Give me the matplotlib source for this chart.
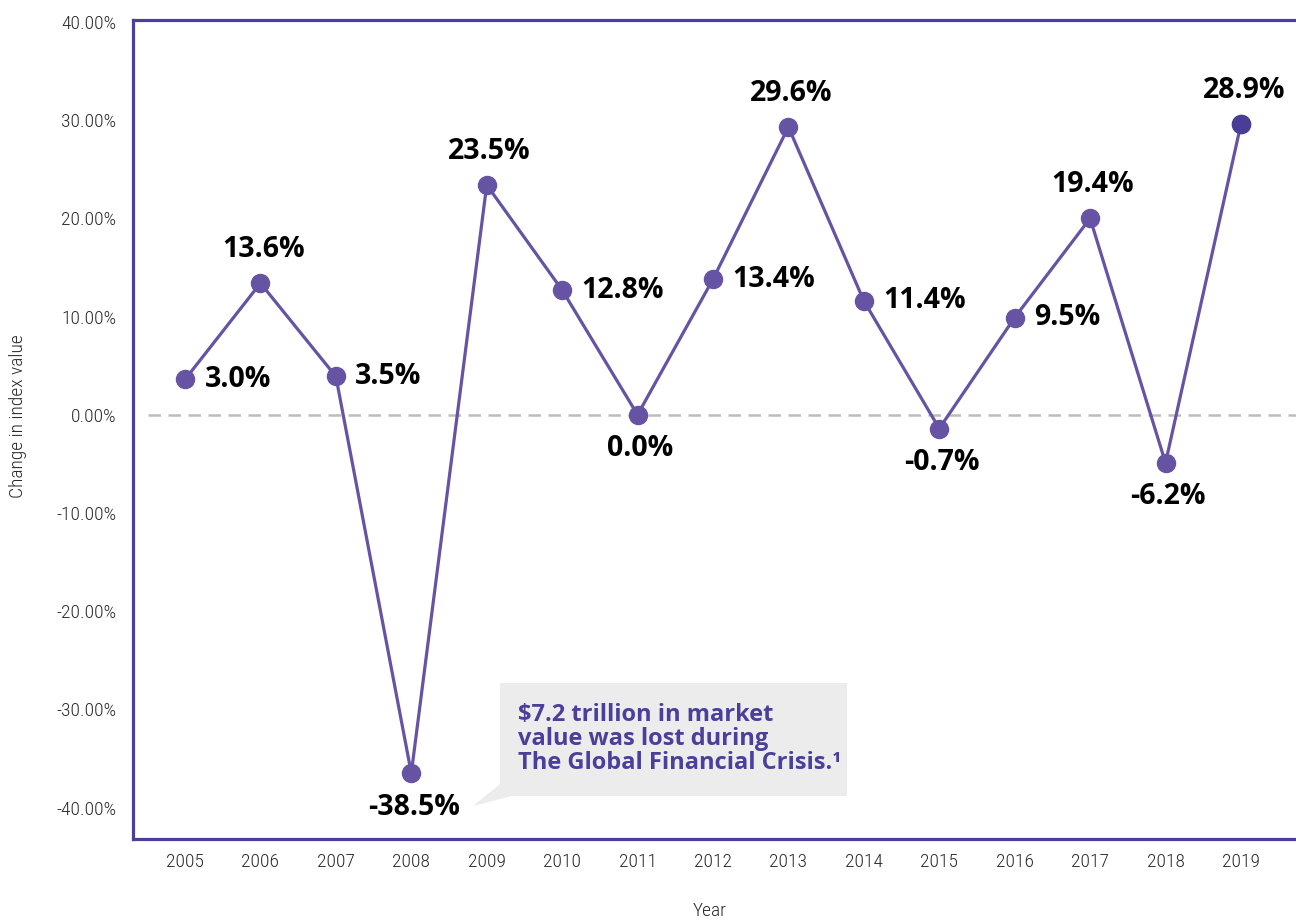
import matplotlib
matplotlib.use("Agg")
import matplotlib.pyplot as plt
from matplotlib.patches import Polygon
from matplotlib import font_manager as fm

years = [2005, 2006, 2007, 2008, 2009, 2010, 2011, 2012, 2013, 2014, 2015, 2016, 2017, 2018, 2019]
values = [3.6, 13.4, 3.9, -36.5, 23.4, 12.7, 0.0, 13.8, 29.3, 11.6, -1.4, 9.9, 20.0, -4.9, 29.6]
labels = ["3.0%", "13.6%", "3.5%", "-38.5%", "23.5%", "12.8%", "0.0%", "13.4%", "29.6%",
          "11.4%", "-0.7%", "9.5%", "19.4%", "-6.2%", "28.9%"]
placement = ["right", "above", "right", "below", "above", "right", "below", "right", "above",
             "right", "below", "right", "above", "below", "above"]
yticks = [40, 30, 20, 10, 0, -10, -20, -30, -40]
ytick_labels = ["40.00%", "30.00%", "20.00%", "10.00%", "0.00%", "-10.00%", "-20.00%", "-30.00%", "-40.00%"]
callout_text = "$7.2 trillion in market\nvalue was lost during\nThe Global Financial Crisis.\u00b9"

names = {f.name for f in fm.fontManager.ttflist}
cond_fp = None
for cand in ["Liberation Sans Narrow", "DejaVu Sans Condensed", "Roboto Condensed", "Open Sans Condensed"]:
    if cand in names:
        cond_fp = dict(family=[cand, "DejaVu Sans"])
        break
if cond_fp is None:
    cond_fp = dict(family=["DejaVu Sans"], stretch="condensed")
cond_fp["weight"] = 300

W, H = 1296, 923
fig = plt.figure(figsize=(W / 100, H / 100), dpi=100)
ax = fig.add_axes([133 / W, 1 - 839 / H, 1 - 133 / W, (839 - 20) / H])

line_col = "#6653a3"
frame_col = "#4b3f9b"
tick_col = "#2a2a2a"

ax.plot(years, values, color=line_col, lw=2.3, marker="o", ms=13, mfc=line_col, mec=line_col, zorder=3)
ax.plot([years[-1]], [values[-1]], marker="o", ms=13, color="#4a3d98", zorder=4, ls="none")
ax.axhline(0, color="#bdbdbd", lw=1.8, ls=(0, (5, 3)), xmin=0.013, zorder=1)

for x, v, lab, p in zip(years, values, labels, placement):
    if p == "right":
        off, ha, va = (14, 0), "left", "center"
    elif p == "above":
        off, ha, va = (2, 14), "center", "bottom"
    else:
        off, ha, va = (2, -14), "center", "top"
    ax.annotate(lab, (x, v), xytext=off, textcoords="offset points", ha=ha, va=va,
                fontsize=20.5, fontweight="bold", family=["Open Sans", "DejaVu Sans"], color="black", zorder=5)

ax.set_xlim(2004.31, 2019.73)
ax.set_ylim(-43.2, 40.2)
ax.set_xticks(years)
ax.set_xticklabels([str(y) for y in years], fontsize=14, color=tick_col, **cond_fp)
ax.set_yticks(yticks)
ax.set_yticklabels(ytick_labels, fontsize=14, color=tick_col, **cond_fp)
ax.tick_params(axis="both", length=0)
ax.tick_params(axis="y", pad=12)
ax.tick_params(axis="x", pad=10)
ax.set_ylabel("Change in index value", fontsize=14, color=tick_col, va="center", **cond_fp)
ax.set_xlabel("Year", fontsize=14, color=tick_col, va="center", **cond_fp)
ax.yaxis.set_label_coords((18 - 133) / 1163, (839 - 416) / 819)
ax.xaxis.set_label_coords((710 - 133) / 1163, (839 - 911) / 819)

for s in ["left", "bottom", "top"]:
    ax.spines[s].set_color(frame_col)
    ax.spines[s].set_linewidth(2.3)
ax.spines["right"].set_visible(False)

def fp(x, y):
    return (x / W, 1 - y / H)

box = Polygon([fp(500, 683), fp(847, 683), fp(847, 796), fp(512, 796), fp(473, 806), fp(500, 784)],
              closed=True, transform=fig.transFigure, facecolor="#ececec", edgecolor="none", zorder=2)
fig.patches.append(box)
fig.text(518 / W, 1 - 703 / H, callout_text, transform=fig.transFigure, ha="left", va="top",
         fontsize=17, fontweight="bold", family=["Open Sans", "DejaVu Sans"], color="#4b3f9b",
         linespacing=1.0)

fig.savefig("out.png", dpi=100)
